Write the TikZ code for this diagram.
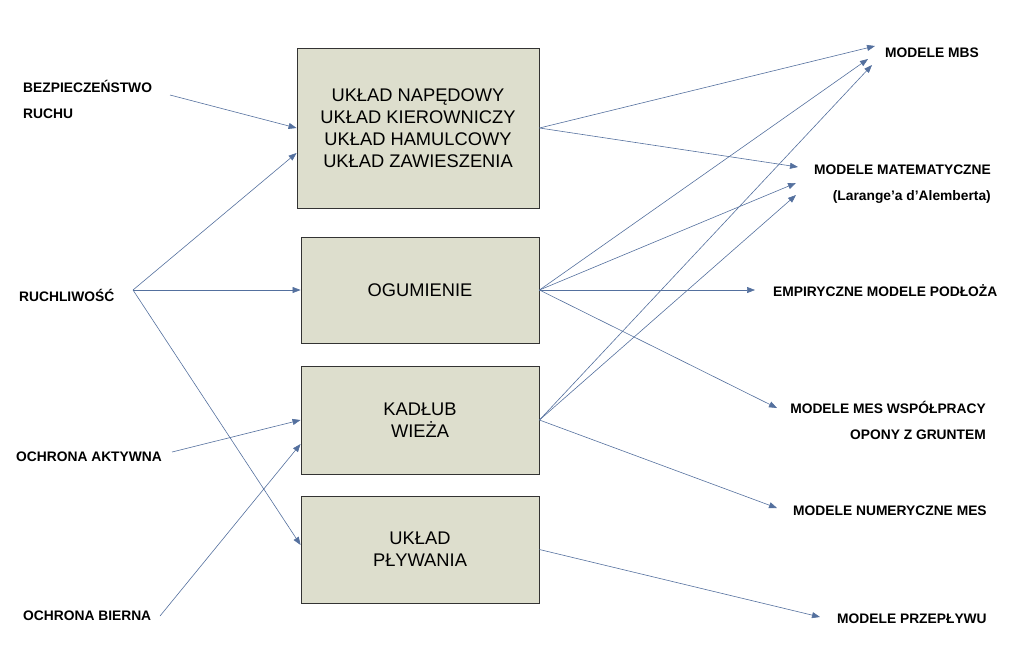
\documentclass[tikz,border=0pt]{standalone}
\usepackage{fontspec}
\setmainfont{Liberation Sans}
\usetikzlibrary{arrows.meta}
\definecolor{boxfill}{RGB}{221,222,205}
\definecolor{arrowblue}{RGB}{84,112,158}

\begin{document}
\begin{tikzpicture}[x=1pt,y=-1pt,
	blok/.style={draw=black!80,line width=0.9pt,fill=boxfill,align=center,inner sep=0pt,font=\fontsize{18.3}{22}\selectfont},
	opis/.style={inner sep=0pt,font=\fontsize{13.8}{26}\selectfont\bfseries},
	strz/.style={draw=arrowblue,line width=0.6pt,-{Triangle[length=8pt,width=6pt]}}]
	\useasboundingbox (0,0) rectangle (1024,670);
	% bloki
	\node[blok,minimum width=242pt,minimum height=160pt] (naped) at (418,128) {UKŁAD NAPĘDOWY\\UKŁAD KIEROWNICZY\\UKŁAD HAMULCOWY\\UKŁAD ZAWIESZENIA};
	\node[blok,minimum width=238pt,minimum height=106pt] (ogum) at (420,290) {OGUMIENIE};
	\node[blok,minimum width=238pt,minimum height=108pt] (kadl) at (420,420) {KADŁUB\\WIEŻA};
	\node[blok,minimum width=238pt,minimum height=107pt] (plyw) at (420,549.5) {UKŁAD\\PŁYWANIA};
	
	% opisy po lewej
	\node[opis,anchor=west,align=left] (bezp) at (23,99) {BEZPIECZEŃSTWO\\RUCHU};
	\node[opis,anchor=west] (ruch) at (19,295) {RUCHLIWOŚĆ};
	\node[opis,anchor=west] (akt) at (16,457) {OCHRONA AKTYWNA};
	\node[opis,anchor=west] (bier) at (23,616) {OCHRONA BIERNA};
	
	% opisy po prawej
	\node[opis,anchor=west] (mbs) at (885,53) {MODELE MBS};
	\node[opis,anchor=east,align=right] (mat) at (991,184) {MODELE MATEMATYCZNE\\(Larange’a d’Alemberta)};
	\node[opis,anchor=west] (emp) at (773,291) {EMPIRYCZNE MODELE PODŁOŻA};
	\node[opis,anchor=east,align=right] (mes) at (986,420.5) {MODELE MES WSPÓŁPRACY\\OPONY Z GRUNTEM};
	\node[opis,anchor=west] (num) at (793,511) {MODELE NUMERYCZNE MES};
	\node[opis,anchor=west] (prz) at (837,619) {MODELE PRZEPŁYWU};
	
	% konce strzalek
	\foreach \x/\y/\z in {bezp-k/170/95,ruch-k/133/290,akt-k/172/452,bier-k/160/616,mbs1/875/46,mbs2/868/59,mbs3/872/65,mat1/798/167,mat2/796/183,mat3/796/195,emp-k/755/290,mes-k/777/408,num-k/777/508,prz-k/820/617}{
		\coordinate (\x) at (\y,\z);
	}
	
	\draw[strz] (bezp-k) -- (naped.west);
	\draw[strz] (ruch-k) -- ([yshift=-25pt]naped.west);
	\draw[strz] (ruch-k) -- (ogum.west);
	\draw[strz] (ruch-k) -- ([yshift=4.5pt]plyw.west);
	\draw[strz] (akt-k) -- (kadl.west);
	\draw[strz] (bier-k) -- ([yshift=-24pt]kadl.west);
	
	\foreach \x/\y in {naped/mbs1,naped/mat1,ogum/mbs2,ogum/mat2,ogum/emp-k,ogum/mes-k,kadl/mbs3,kadl/mat3,kadl/num-k,plyw/prz-k}{
		\draw[strz] (\x.east) -- (\y);
	}
\end{tikzpicture}
\end{document}
